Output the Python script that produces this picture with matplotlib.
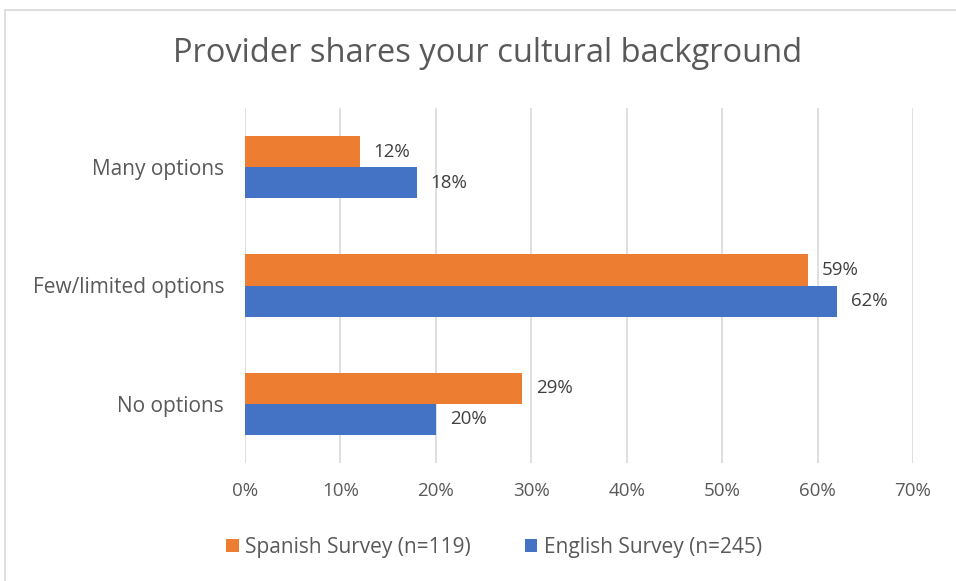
import matplotlib
matplotlib.use("Agg")
import matplotlib.pyplot as plt
from matplotlib.patches import Rectangle
import numpy as np

categories = ["Many options", "Few/limited options", "No options"]
series_names = ["Spanish Survey (n=119)", "English Survey (n=245)"]
spanish = [12, 59, 29]
english = [18, 62, 20]
xticks = [0, 10, 20, 30, 40, 50, 60, 70]

orange = "#ED7D31"
blue = "#4472C4"
txt = "#595959"

plt.rcParams['font.family'] = ['Open Sans', 'DejaVu Sans']

fig = plt.figure(figsize=(9.56, 5.81), dpi=100)
fig.patches.append(Rectangle((5/956, -0.01), 1.0, 1 - 10/581 + 0.01, transform=fig.transFigure,
                             fill=False, edgecolor="#D9D9D9", linewidth=1.2))

ax = fig.add_axes([245/956, 1 - 463/581, (913 - 245)/956, (463 - 108)/581])

y = np.arange(len(categories))
h = 0.262
ax.barh(y - h/2, spanish, height=h, color=orange, label=series_names[0], zorder=3)
ax.barh(y + h/2, english, height=h, color=blue, label=series_names[1], zorder=3)

for yi, v in zip(y, spanish):
    ax.annotate(f"{v}%", (v, yi - h/2), xytext=(10, 0), textcoords="offset points",
                va="center", ha="left", fontsize=13.5, color="#404040")
for yi, v in zip(y, english):
    ax.annotate(f"{v}%", (v, yi + h/2), xytext=(10, 0), textcoords="offset points",
                va="center", ha="left", fontsize=13.5, color="#404040")

ax.set_ylim(len(categories) - 0.5, -0.5)
ax.set_xlim(0, 70)
ax.set_xticks(xticks)
ax.set_xticklabels([f"{t}%" for t in xticks], fontsize=13.5, color=txt)
ax.set_yticks(y)
ax.set_yticklabels(categories, fontsize=15, color=txt)
ax.tick_params(axis='both', length=0)
ax.tick_params(axis='x', pad=14)
ax.tick_params(axis='y', pad=15)
ax.grid(axis='x', color="#D9D9D9", linewidth=1.2, zorder=0)
for s in ax.spines.values():
    s.set_visible(False)

fig.text(488/956, 1 - 54/581, "Provider shares your cultural background", ha="center", va="center",
         fontsize=23.5, color=txt)

leg = fig.legend(loc="center", bbox_to_anchor=(494/956, 1 - 547/581), ncol=2, frameon=False,
                 fontsize=15, labelcolor=txt, handlelength=0.6, handleheight=0.6,
                 handletextpad=0.3, columnspacing=2.6)

fig.savefig("out.png", dpi=100)
